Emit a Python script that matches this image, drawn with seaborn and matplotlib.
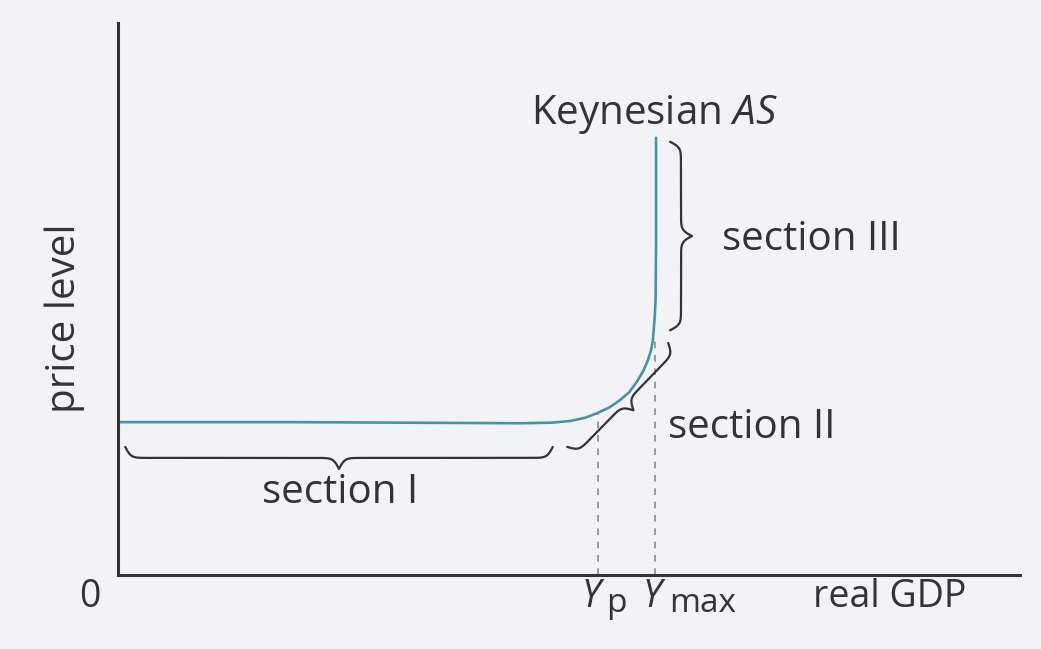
import numpy as np
import matplotlib
matplotlib.use("Agg")
import matplotlib.pyplot as plt
import pandas as pd
import seaborn as sns

# Keynesian AS curve (x: real GDP, y: price level, 0-100 units)
as_gdp = [0, 20, 44.6, 48.0, 50.1, 51.8, 53.2, 54.5, 55.65, 56.7, 57.5, 58.2, 58.76, 59.1, 59.3, 59.5, 59.6, 59.65, 59.65]
as_price = [27.8, 27.8, 27.6, 27.7, 28.0, 28.6, 29.5, 30.5, 31.8, 33.3, 35.1, 37.0, 39.1, 40.9, 42.7, 46.9, 50.0, 60.0, 79.5]

# reference GDP levels and where their guide lines meet the curve
ref_main = ["Y", "Y"]
ref_sub = ["p", "max"]
ref_gdp = [53.2, 59.5]
ref_price = [29.5, 42.7]
ref_text_x = [51.4, 58.2]
ref_sub_x = [54.1, 61.1]

# braces: start point, end point (data units), label, label position, alignment
sections = ["section I", "section II", "section III"]
sec_start = [(0.8, 23.3), (49.8, 23.3), (61.2, 44.5)]
sec_end = [(48.2, 23.3), (61.0, 42.2), (61.2, 78.8)]
sec_label_pos = [(24.6, 14.9), (61.0, 26.7), (67.0, 60.9)]
sec_label_ha = ["center", "left", "left"]

bg = "#f3f3f7"
ink = "#333333"
curve_col = "#4a92a2"

sns.set_theme(style="white")
plt.rcParams["font.family"] = ["Open Sans", "DejaVu Sans"]
plt.rcParams["mathtext.fontset"] = "custom"
plt.rcParams["mathtext.rm"] = "Open Sans"
plt.rcParams["mathtext.it"] = "Open Sans:italic"

W, H = 1041, 649
fig = plt.figure(figsize=(W / 100, H / 100), dpi=100, facecolor=bg)
ax = fig.add_axes([118 / W, (H - 575) / H, (1020 - 118) / W, (575 - 23) / H])
ax.set_facecolor(bg)

df = pd.DataFrame({"gdp": as_gdp, "price": as_price})
sns.lineplot(data=df, x="gdp", y="price", sort=False, estimator=None,
             color=curve_col, linewidth=1.9, ax=ax)

ax.set_xlim(0, 100)
ax.set_ylim(0, 100.4)
ax.set_xticks([])
ax.set_yticks([])
ax.set_xlabel("")
ax.set_ylabel("")
for side in ["top", "right"]:
    ax.spines[side].set_visible(False)
for side in ["left", "bottom"]:
    ax.spines[side].set_color(ink)
    ax.spines[side].set_linewidth(2.2)

# dashed guides
for g, p in zip(ref_gdp, ref_price):
    ax.plot([g, g], [0, p], color="#8a8a8a", linewidth=1.2, dashes=(4, 4))


def brace(p0, p1, h=22, beta=0.35, res=400):
    # build curly brace in pixel space, bulging to the right of p0->p1
    a = ax.transData.transform(p0)
    b = ax.transData.transform(p1)
    d = b - a
    L = np.hypot(*d)
    u = d / L
    n = np.array([u[1], -u[0]])
    s = np.linspace(0, L / 2, res // 2)
    half = 1 / (1 + np.exp(-beta * s)) + 1 / (1 + np.exp(-beta * (s - L / 2))) - 0.5
    half = half / half.max()
    s_full = np.concatenate([s, L - s[::-1]])
    v_full = np.concatenate([half, half[::-1]]) * h
    pts = a + np.outer(s_full, u) + np.outer(v_full, n)
    return ax.transData.inverted().transform(pts)


for p0, p1 in zip(sec_start, sec_end):
    pts = brace(p0, p1)
    ax.plot(pts[:, 0], pts[:, 1], color=ink, linewidth=1.6, clip_on=False)

fs = 29
for name, pos, ha in zip(sections, sec_label_pos, sec_label_ha):
    ax.text(pos[0], pos[1], name, ha=ha, va="center", fontsize=fs, color=ink)

ax.text(59.5, 83.8, r"Keynesian $AS$", ha="center", va="center", fontsize=fs, color=ink)

# axis labels
fs_ax = 27
base = -5.8
ax.text(-5.9, 46.7, "price level", rotation=90, ha="center", va="center",
        fontsize=fs, color=ink, clip_on=False)
ax.text(-3.1, base, "0", ha="center", va="baseline", fontsize=fs_ax, color=ink, clip_on=False)
ax.text(77.1, base, "real GDP", ha="left", va="baseline", fontsize=fs_ax, color=ink, clip_on=False)
for m, s, tx, sx in zip(ref_main, ref_sub, ref_text_x, ref_sub_x):
    ax.text(tx, base, m, ha="left", va="baseline", fontsize=fs_ax, fontstyle="italic",
            color=ink, clip_on=False)
    ax.text(sx, base - 1.0, s, ha="left", va="baseline", fontsize=24, color=ink, clip_on=False)

fig.savefig("out.png", dpi=100, facecolor=bg)
